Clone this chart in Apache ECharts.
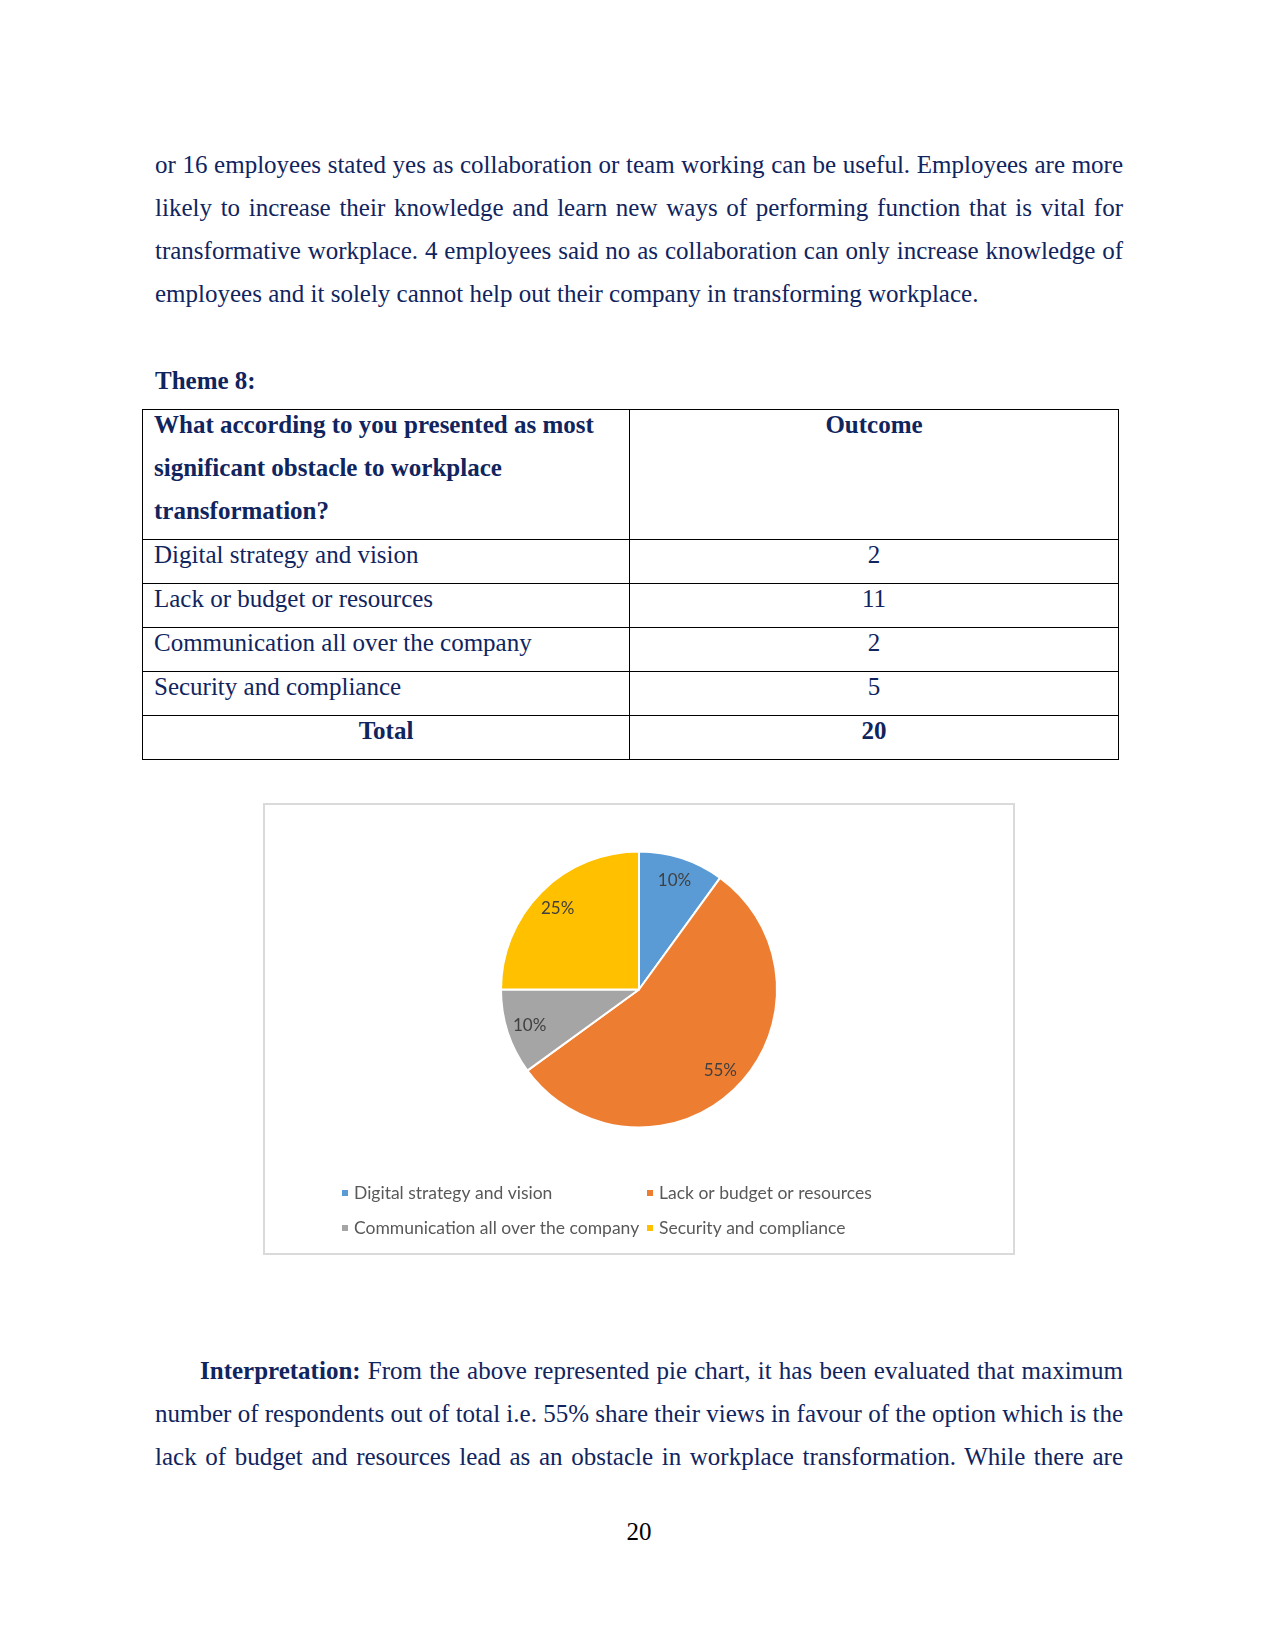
<!DOCTYPE html>
<html>
<head>
<meta charset="utf-8">
<script src="https://cdn.jsdelivr.net/npm/echarts@6/dist/echarts.min.js"></script>
<style>
  html, body { margin: 0; padding: 0; background: #fff; }
  body { width: 1275px; height: 1651px; position: relative; overflow: hidden; }
  .txt { position: absolute; font-family: "Liberation Serif", "Times New Roman", serif; font-size: 25px; line-height: 43px; color: #10245e; }
  .line { white-space: nowrap; }
  .just { text-align: justify; text-align-last: justify; white-space: normal; }
  #tbl { position: absolute; left: 142px; top: 409px; width: 976px; border-collapse: collapse; table-layout: fixed;
         font-family: "Liberation Serif", "Times New Roman", serif; font-size: 25px; color: #10245e; }
  #tbl td { border: 1px solid #000; padding: 0 0 0 11px; vertical-align: top; overflow: hidden; }
  #tbl td .in { line-height: 43px; margin-top: -7px; }
  #tbl td.c { text-align: center; padding: 0; }
  #tbl td.b { font-weight: bold; }
  #box { position: absolute; left: 263px; top: 803px; width: 752px; height: 452px; border: 2px solid #dadada; box-sizing: border-box; background: #fff; }
  #chart { position: absolute; left: 0; top: 0; width: 748px; height: 448px; }
</style>
</head>
<body>
<div class="txt" style="left:155px; top:143px; width:968px;">
  <div class="just">or 16 employees stated yes as collaboration or team working can be useful. Employees are more</div>
  <div class="just">likely to increase their knowledge and learn new ways of performing function that is vital for</div>
  <div class="just">transformative workplace. 4 employees said no as collaboration can only increase knowledge of</div>
  <div class="line">employees and it solely cannot help out their company in transforming workplace.</div>
</div>
<div class="txt" style="left:155px; top:359px; font-weight:bold;">Theme 8:</div>

<table id="tbl">
  <colgroup><col style="width:487px"><col style="width:489px"></colgroup>
  <tbody id="tbody"></tbody>
</table>

<div id="box"><div id="chart"></div></div>

<div class="txt" style="left:155px; top:1349px; width:968px;">
  <div class="just" style="padding-left:45px;"><b>Interpretation:</b> From the above represented pie chart, it has been evaluated that maximum</div>
  <div class="just">number of respondents out of total i.e. 55% share their views in favour of the option which is the</div>
  <div class="just">lack of budget and resources lead as an obstacle in workplace transformation. While there are</div>
</div>
<div class="txt" style="left:539px; top:1510px; width:200px; text-align:center; color:#000;">20</div>

<script>
// ---- data ----
const questionText = 'What according to you presented as most significant obstacle to workplace transformation?';
const outcomeHeader = 'Outcome';
const categories = [
  'Digital strategy and vision',
  'Lack or budget or resources',
  'Communication all over the company',
  'Security and compliance'
];
const outcomes = [2, 11, 2, 5];
const totalLabel = 'Total';
const sliceColors = ['#5b9bd5', '#ed7d31', '#a5a5a5', '#ffc000'];

// ---- table ----
const tbody = document.getElementById('tbody');
function addRow(h, a, b, bold, centerFirst) {
  const tr = document.createElement('tr');
  tr.style.height = h + 'px';
  const td1 = document.createElement('td');
  td1.className = (bold ? 'b ' : '') + (centerFirst ? 'c' : '');
  td1.innerHTML = '<div class="in">' + a + '</div>';
  const td2 = document.createElement('td');
  td2.className = 'c' + (bold ? ' b' : '');
  td2.innerHTML = '<div class="in">' + b + '</div>';
  tr.appendChild(td1); tr.appendChild(td2);
  tbody.appendChild(tr);
}
addRow(130, '<div style="width:440px">' + questionText + '</div>', outcomeHeader, true, false);
categories.forEach((c, i) => addRow(44, c, outcomes[i], false, false));
addRow(44, totalLabel, outcomes.reduce((s, v) => s + v, 0), true, true);

// ---- chart ----
const chart = echarts.init(document.getElementById('chart'), null, { renderer: 'canvas' });
const pieData = categories.map((c, i) => ({ name: c, value: outcomes[i], itemStyle: { color: sliceColors[i] } }));
const labelData = categories.map((c, i) => ({ name: c, value: outcomes[i] }));
const legendText = { fontFamily: 'Lato', fontSize: 17.5, color: '#595959', lineHeight: 20 };
chart.setOption({
  animation: false,
  legend: [
    { data: [categories[0], categories[2]], orient: 'vertical', left: 75, top: 378, padding: 0,
      itemWidth: 8, itemHeight: 8, itemGap: 15, icon: 'rect', selectedMode: false, textStyle: legendText },
    { data: [categories[1], categories[3]], orient: 'vertical', left: 380, top: 378, padding: 0,
      itemWidth: 8, itemHeight: 8, itemGap: 15, icon: 'rect', selectedMode: false, textStyle: legendText }
  ],
  series: [
    {
      type: 'pie', center: [374, 184.5], radius: [0, 138], startAngle: 90, clockwise: true,
      label: { show: false }, labelLine: { show: false },
      itemStyle: { borderColor: '#ffffff', borderWidth: 2 },
      emphasis: { disabled: true }, silent: true,
      data: pieData
    },
    {
      type: 'pie', center: [374, 184.5], radius: [0, 224], startAngle: 90, clockwise: true,
      itemStyle: { color: 'rgba(0,0,0,0)', borderWidth: 0 },
      label: { show: true, position: 'inside', formatter: '{d}%', fontFamily: 'Lato', fontSize: 17, color: '#404040' },
      labelLine: { show: false },
      emphasis: { disabled: true }, silent: true,
      data: labelData
    }
  ]
});
</script>
</body>
</html>
